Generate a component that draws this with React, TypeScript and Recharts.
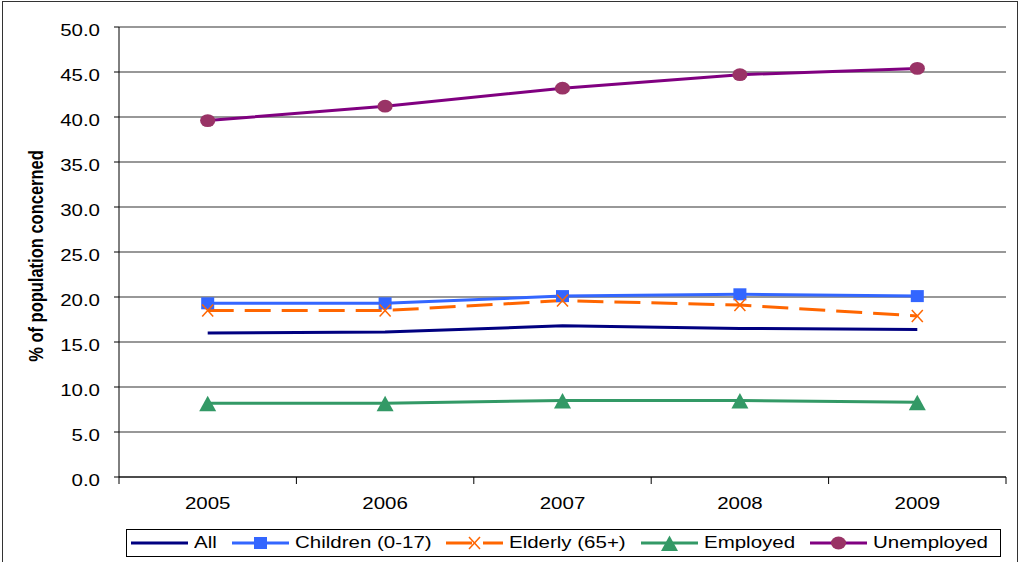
import React from "react";
import { LineChart, Line, XAxis, YAxis, CartesianGrid, Legend } from "recharts";

const years = ["2005", "2006", "2007", "2008", "2009"];
const allValues = [16.0, 16.1, 16.8, 16.5, 16.4];
const childrenValues = [19.3, 19.3, 20.1, 20.3, 20.1];
const elderlyValues = [18.5, 18.5, 19.6, 19.1, 17.9];
const employedValues = [8.2, 8.2, 8.5, 8.5, 8.3];
const unemployedValues = [39.6, 41.2, 43.2, 44.7, 45.4];
const yTicks = [0, 5, 10, 15, 20, 25, 30, 35, 40, 45, 50];
const yLabel = "% of population concerned";

const W = 1018;
const H = 562;
const MARGIN = { top: 27, right: 12, bottom: 55, left: 0 };
const Y_AXIS_W = 119;
const HALF_BAND = (W - MARGIN.left - MARGIN.right - Y_AXIS_W) / years.length / 2;
const FONT = '"Liberation Sans", Arial, sans-serif';
const STRETCH = 1.28; // the original picture is squeezed wider than it should be

type MarkerKind = "none" | "square" | "cross" | "triangle" | "circle";

const series: { key: string; name: string; color: string; marker: MarkerKind; markerColor: string; dash?: string }[] = [
  { key: "all", name: "All", color: "#000080", marker: "none", markerColor: "#000080" },
  { key: "children", name: "Children (0-17)", color: "#3366FF", marker: "square", markerColor: "#3366FF" },
  { key: "elderly", name: "Elderly (65+)", color: "#FF6600", marker: "cross", markerColor: "#FF6600", dash: "26 11" },
  { key: "employed", name: "Employed", color: "#339966", marker: "triangle", markerColor: "#339966" },
  { key: "unemployed", name: "Unemployed", color: "#800080", marker: "circle", markerColor: "#993366" },
];

const data = years.map((year, i) => ({
  year,
  all: allValues[i],
  children: childrenValues[i],
  elderly: elderlyValues[i],
  employed: employedValues[i],
  unemployed: unemployedValues[i],
}));

function Marker({ kind, cx, cy, color }: { kind: MarkerKind; cx: number; cy: number; color: string }) {
  if (kind === "square") return <rect x={cx - 6.5} y={cy - 6} width={13} height={12} fill={color} />;
  if (kind === "circle") return <ellipse cx={cx} cy={cy} rx={7.6} ry={6.4} fill={color} />;
  if (kind === "triangle")
    return <polygon points={`${cx},${cy - 7.5} ${cx + 8.5},${cy + 8} ${cx - 8.5},${cy + 8}`} fill={color} />;
  if (kind === "cross")
    return (
      <g stroke={color} strokeWidth={1.5}>
        <line x1={cx - 5.5} y1={cy - 6} x2={cx + 5.5} y2={cy + 6} />
        <line x1={cx - 5.5} y1={cy + 6} x2={cx + 5.5} y2={cy - 6} />
      </g>
    );
  return null;
}

let ctx: CanvasRenderingContext2D | null = null;
function textWidth(s: string) {
  if (!ctx) ctx = document.createElement("canvas").getContext("2d");
  if (!ctx) return s.length * 8;
  ctx.font = `16px ${FONT}`;
  return ctx.measureText(s).width;
}

function YTick({ x, y, payload }: any) {
  return (
    <text transform={`translate(${x},${y + 9}) scale(${STRETCH},1)`} textAnchor="end" fontSize={16} fontFamily={FONT} fill="#000">
      {Number(payload.value).toFixed(1)}
    </text>
  );
}

function XTick({ x, y, payload, index }: any) {
  const last = index === years.length - 1;
  return (
    <g>
      <line x1={x - HALF_BAND} x2={x - HALF_BAND} y1={y} y2={y + 7} stroke="#000" />
      {last && <line x1={x + HALF_BAND} x2={x + HALF_BAND} y1={y} y2={y + 7} stroke="#000" />}
      <text transform={`translate(${x},${y + 32}) scale(${STRETCH},1)`} textAnchor="middle" fontSize={16} fontFamily={FONT} fill="#000">
        {payload.value}
      </text>
    </g>
  );
}

function YLabel({ viewBox }: any) {
  const cy = viewBox ? viewBox.y + viewBox.height / 2 + 4 : 256;
  return (
    <text
      transform={`translate(43,${cy}) scale(${STRETCH},1) rotate(-90)`}
      textAnchor="middle"
      fontSize={16.5}
      fontWeight="bold"
      fontFamily={FONT}
      fill="#000"
    >
      {yLabel}
    </text>
  );
}

function LegendBox() {
  return (
    <div
      style={{
        boxSizing: "border-box",
        height: 28,
        border: "1px solid #000",
        display: "flex",
        alignItems: "center",
        paddingLeft: 4,
        gap: 15,
        fontFamily: FONT,
        fontSize: 16,
        color: "#000",
        background: "#fff",
      }}
    >
      {series.map((s) => (
        <div key={s.key} style={{ display: "flex", alignItems: "center" }}>
          <svg width={57} height={16} style={{ marginRight: 6 }}>
            <line x1={0} x2={57} y1={8} y2={8} stroke={s.color} strokeWidth={3} strokeDasharray={s.dash} />
            <Marker kind={s.marker} cx={28.5} cy={8} color={s.markerColor} />
          </svg>
          <span style={{ display: "inline-block", width: textWidth(s.name) * STRETCH, whiteSpace: "nowrap" }}>
            <span style={{ display: "inline-block", transform: `scaleX(${STRETCH})`, transformOrigin: "left center" }}>
              {s.name}
            </span>
          </span>
        </div>
      ))}
    </div>
  );
}

export default function App() {
  return (
    <div style={{ position: "absolute", left: 0, top: 0, width: W, height: H, overflow: "hidden", background: "#fff" }}>
      <div
        style={{
          position: "absolute",
          left: 2,
          top: 1,
          width: 1014,
          height: H + 10,
          border: "1px solid #333",
        }}
      />
      <div style={{ position: "absolute", left: 0, top: 0 }}>
        <LineChart width={W} height={H} data={data} margin={MARGIN}>
          <CartesianGrid vertical={false} stroke="#333" strokeWidth={1.2} />
          <XAxis
            dataKey="year"
            type="category"
            padding={{ left: HALF_BAND, right: HALF_BAND }}
            axisLine={{ stroke: "#000" }}
            tickLine={false}
            tickSize={0}
            tickMargin={0}
            height={30}
            tick={<XTick />}
            interval={0}
          />
          <YAxis
            domain={[0, 50]}
            ticks={yTicks}
            width={Y_AXIS_W}
            axisLine={{ stroke: "#000" }}
            tickLine={{ stroke: "#000" }}
            tickSize={5}
            tickMargin={14}
            tick={<YTick />}
            interval={0}
            label={<YLabel />}
          />
          <Legend
            layout="horizontal"
            verticalAlign="middle"
            align="center"
            wrapperStyle={{ left: 126, top: 529, width: 875 }}
            content={() => <LegendBox />}
          />
          {series.map((s) => (
            <Line
              key={s.key}
              type="linear"
              dataKey={s.key}
              name={s.name}
              stroke={s.color}
              strokeWidth={3}
              strokeDasharray={s.dash}
              isAnimationActive={false}
              activeDot={false}
              dot={
                s.marker === "none"
                  ? false
                  : (p: any) => <Marker key={`${s.key}-${p.index}`} kind={s.marker} cx={p.cx} cy={p.cy} color={s.markerColor} />
              }
            />
          ))}
        </LineChart>
      </div>
    </div>
  );
}
